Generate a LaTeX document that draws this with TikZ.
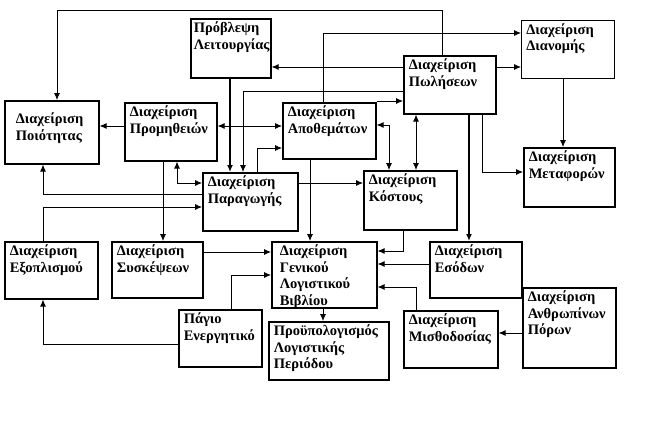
\documentclass[tikz,border=0pt]{standalone}
\usepackage{fontspec}
\setmainfont{Liberation Serif}
\usepackage{xcolor}
\usepackage{tikz}
\usetikzlibrary{arrows.meta}

% box text: width, height (in pt), text on top
\newcommand{\bx}[3]{\begin{minipage}[c][\dimexpr#2pt-6pt\relax][t]{\dimexpr#1pt-10pt\relax}#3\end{minipage}}

\tikzset{
    box/.style = {draw, line width=1.6pt, inner xsep=5pt, inner ysep=3pt, anchor=north west,
        font=\fontsize{14.5}{16.5}\selectfont\bfseries},
    thinbox/.style = {box, line width=0.8pt},
    >={Latex[length=7pt,width=6pt]}
}

\begin{document}
\begin{tikzpicture}[x=1pt, y=-1pt]
        \useasboundingbox[fill=white] (0,0) rectangle (649,431);
        \begin{scope}
            \node[box] (Prob) at (190,18) {\bx{80}{59}{\hspace*{-2pt}Πρόβλεψη\\\hspace*{-2pt}Λειτουργίας}};
            \node[thinbox] (Dian) at (521,20) {\bx{93}{58}{Διαχείριση\\Διανομής}};
            \node[box] (Pol) at (403,55) {\bx{92}{58}{Διαχείριση\\Πωλήσεων}};
            \node[box] (Poi) at (4,100) {\bx{94}{63}{\vspace{9pt}\leftskip=6pt Διαχείριση\\Ποιότητας}};
            \node[box] (Prom) at (124,102) {\bx{92}{58}{Διαχείριση\\Προμηθειών}};
            \node[box] (Apo) at (282,102) {\bx{93}{56}{Διαχείριση\\Αποθεμάτων}};
            \node[box] (Met) at (523,147) {\bx{91}{59}{Διαχείριση\\Μεταφορών}};
            \node[box] (Par) at (202,172) {\bx{95}{58}{Διαχείριση\\Παραγωγής}};
            \node[box] (Kos) at (363,170) {\bx{93}{59}{Διαχείριση\\Κόστους}};
            \node[box] (Exo) at (4,241) {\bx{93}{57}{Διαχείριση\\Εξοπλισμού}};
            \node[box] (Sys) at (111,241) {\bx{91}{56}{Διαχείριση\\Συσκέψεων}};
            \node[box] (Gen) at (271,241) {\bx{105}{66}{\leftskip=3pt Διαχείριση\\Γενικού\\Λογιστικού\\Βιβλίου}};
            \node[box] (Eso) at (429,241) {\bx{92}{56}{Διαχείριση\\Εσόδων}};
            \node[box] (Pag) at (178,309) {\bx{83}{57}{Πάγιο\\Ενεργητικό}};
            \node[box] (Proy) at (268,321) {\bx{120}{58}{Προϋπολογισμός\\Λογιστικής\\Περιόδου}};
            \node[box] (Mis) at (403,310) {\bx{94}{57}{Διαχείριση\\Μισθοδοσίας}};
            \node[box] (Anth) at (522,287) {\bx{93}{80}{Διαχείριση\\Ανθρωπίνων\\Πόρων}};
        \end{scope}
        \begin{scope}[line width=0.8pt]
            \draw[->] (442,0 |- Pol.north) |- (57,10) -- (57,0 |- Poi.north);
            \draw[->] (323,0 |- Apo.north) |- (Dian.west |- 0,33);
            \draw[->] (Pol.west |- 0,67) -- (Prob.east |- 0,67);
            \draw[->] (Pol.west |- 0,91) -| (243,0 |- Par.north);
            \draw[->, line width=1.6pt] (230,0 |- Prob.south) -- (230,0 |- Par.north);
            \draw[->] (Apo.east |- 0,101) -- (Pol.west |- 0,101);
            \draw[<->] (Prom.east |- 0,126) -- (Apo.west |- 0,126);
            \draw[->] (Prom.west |- 0,126) -- (Poi.east |- 0,126);
            \draw[->] (257,0 |- Par.north) |- (Apo.west |- 0,148);
            \draw[<->] (177,0 |- Prom.south) |- (Par.west |- 0,183);
            \draw[->] (Par.west |- 0,194) -| (43,0 |- Poi.south);
            \draw[->] (43,0 |- Exo.north) |- (Par.west |- 0,207);
            \draw[->] (163,0 |- Prom.south) -- (163,0 |- Sys.north);
            \draw[->] (310,0 |- Apo.south) -- (310,0 |- Gen.north);
            \draw[->] (Par.east |- 0,183) -- (Kos.west |- 0,183);
            \draw[<->] (Apo.east |- 0,125) -| (389,0 |- Kos.north);
            \draw[<->] (416,0 |- Pol.south) -- (416,0 |- Kos.north);
            \draw[->, line width=1.6pt] (469,0 |- Pol.south) -- (469,0 |- Eso.north);
            \draw[->] (482,0 |- Pol.south) |- (Met.west |- 0,172);
            \draw[->] (Pol.east |- 0,67) -- (Dian.west |- 0,67);
            \draw[->] (563,0 |- Dian.south) -- (563,0 |- Met.north);
            \draw[->] (403,0 |- Kos.south) |- (Gen.east |- 0,251);
            \draw[->] (Eso.west |- 0,264) -- (Gen.east |- 0,264);
            \draw[->] (416,0 |- Mis.north) |- (Gen.east |- 0,287);
            \draw[->] (Anth.west |- 0,333) -- (Mis.east |- 0,333);
            \draw[->] (Sys.east |- 0,252) -- (Gen.west |- 0,252);
            \draw[->] (231,0 |- Pag.north) |- (Gen.west |- 0,275);
            \draw[->] (Pag.west |- 0,344) -| (43,0 |- Exo.south);
            \draw[->] (323,0 |- Gen.south) -- (323,0 |- Proy.north);
        \end{scope}
    \end{tikzpicture}
\end{document}
